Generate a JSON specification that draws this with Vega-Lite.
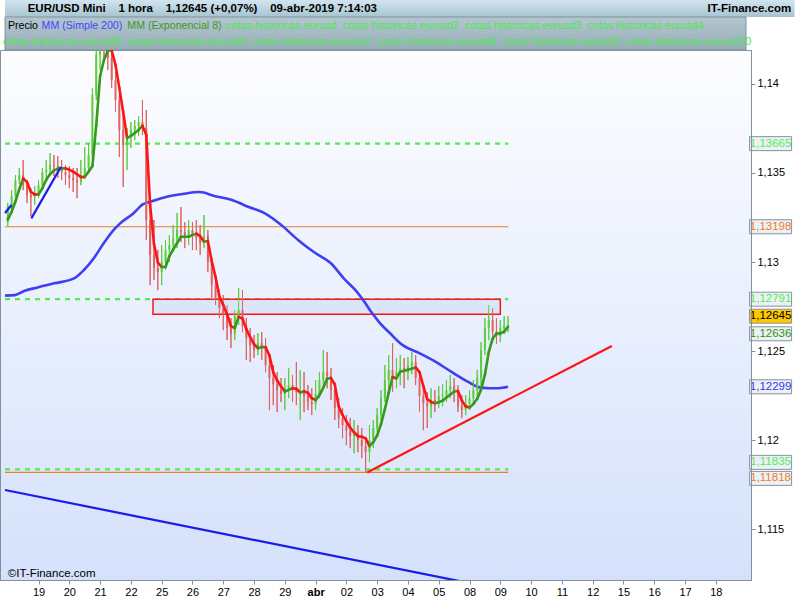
{
  "$schema": "https://vega.github.io/schema/vega-lite/v6.json",
  "width": 751,
  "height": 530,
  "autosize": {"type": "none"},
  "padding": {"left": 0, "top": 50, "right": 49, "bottom": 20},
  "background": "#ffffff",
  "config": {
    "font": "Liberation Sans",
    "axis": {"labelOverlap": false, "labelSeparation": 0},
    "axisX": {"labelOverlap": false, "tickCount": 24},
    "view": {
      "stroke": "#7f929e",
      "strokeWidth": 1,
      "fill": {"gradient": "linear", "x1": 0, "y1": 0, "x2": 0, "y2": 1, "stops": [{"offset": 0, "color": "#fdfdff"}, {"offset": 1, "color": "#d5e1fb"}]}
    }
  },
  "title": {
    "text": "cotas historicas eurusd5\u00a0\u00a0cotas historicas eurusd6\u00a0\u00a0cotas historicas eurusd7\u00a0\u00a0cotas historicas eurusd8\u00a0\u00a0cotas historicas eurusd9\u00a0\u00a0cotas historicas eurusd10",
    "anchor": "start",
    "frame": "group",
    "orient": "top",
    "dx": 3,
    "offset": -47,
    "font": "Liberation Sans",
    "fontSize": 11,
    "fontWeight": "normal",
    "color": "#4ee84e",
    "zindex": 1
  },
  "datasets": {
    "velas": [
      {"t":-1,"o":1.13224,"h":1.13331,"l":1.13202,"c":1.13314,"e":1.13238},
      {"t":-0.875,"o":1.13314,"h":1.13404,"l":1.13292,"c":1.1337,"e":1.13282},
      {"t":-0.75,"o":1.1337,"h":1.13488,"l":1.13348,"c":1.1346,"e":1.1334},
      {"t":-0.625,"o":1.1346,"h":1.13528,"l":1.13438,"c":1.13488,"e":1.1341},
      {"t":-0.5,"o":1.13488,"h":1.13573,"l":1.13404,"c":1.13432,"e":1.1347},
      {"t":-0.375,"o":1.13432,"h":1.1346,"l":1.13331,"c":1.13376,"e":1.13449},
      {"t":-0.25,"o":1.13376,"h":1.13415,"l":1.13258,"c":1.13365,"e":1.13394},
      {"t":-0.125,"o":1.13365,"h":1.13427,"l":1.1332,"c":1.13387,"e":1.1338},
      {"t":0,"o":1.13387,"h":1.1346,"l":1.13359,"c":1.13432,"e":1.13379},
      {"t":0.125,"o":1.13432,"h":1.13528,"l":1.13404,"c":1.13505,"e":1.13415},
      {"t":0.25,"o":1.13505,"h":1.13573,"l":1.13472,"c":1.13517,"e":1.13462},
      {"t":0.375,"o":1.13517,"h":1.13612,"l":1.13488,"c":1.13545,"e":1.13494},
      {"t":0.5,"o":1.13545,"h":1.13601,"l":1.13483,"c":1.13539,"e":1.13515},
      {"t":0.625,"o":1.13539,"h":1.13595,"l":1.13472,"c":1.13528,"e":1.13523},
      {"t":0.75,"o":1.13528,"h":1.13573,"l":1.1346,"c":1.13505,"e":1.13526},
      {"t":0.875,"o":1.13505,"h":1.13545,"l":1.13432,"c":1.13488,"e":1.13526},
      {"t":1,"o":1.13488,"h":1.13539,"l":1.13415,"c":1.13472,"e":1.13518},
      {"t":1.125,"o":1.13472,"h":1.13528,"l":1.13393,"c":1.1346,"e":1.13508},
      {"t":1.25,"o":1.1346,"h":1.13528,"l":1.13359,"c":1.13449,"e":1.13493},
      {"t":1.375,"o":1.13449,"h":1.13573,"l":1.13432,"c":1.13483,"e":1.13478},
      {"t":1.5,"o":1.13483,"h":1.13646,"l":1.13472,"c":1.13528,"e":1.13477},
      {"t":1.625,"o":1.13528,"h":1.13668,"l":1.13517,"c":1.13601,"e":1.13507},
      {"t":1.75,"o":1.13601,"h":1.13977,"l":1.13573,"c":1.13938,"e":1.13539},
      {"t":1.875,"o":1.13938,"h":1.14247,"l":1.1391,"c":1.14163,"e":1.1377},
      {"t":2,"o":1.14163,"h":1.14303,"l":1.14079,"c":1.14219,"e":1.14045},
      {"t":2.125,"o":1.14219,"h":1.14303,"l":1.14124,"c":1.14202,"e":1.14135},
      {"t":2.25,"o":1.14202,"h":1.14275,"l":1.14079,"c":1.14146,"e":1.14188},
      {"t":2.375,"o":1.14146,"h":1.14191,"l":1.13977,"c":1.14022,"e":1.14188},
      {"t":2.5,"o":1.14022,"h":1.14067,"l":1.13843,"c":1.1391,"e":1.14107},
      {"t":2.625,"o":1.1391,"h":1.13938,"l":1.1359,"c":1.13741,"e":1.13977},
      {"t":2.75,"o":1.13741,"h":1.13826,"l":1.13421,"c":1.13657,"e":1.13843},
      {"t":2.875,"o":1.13657,"h":1.13753,"l":1.13517,"c":1.13719,"e":1.13696},
      {"t":3,"o":1.13719,"h":1.13786,"l":1.1364,"c":1.13741,"e":1.13708},
      {"t":3.125,"o":1.13741,"h":1.13798,"l":1.13685,"c":1.13764,"e":1.13725},
      {"t":3.25,"o":1.13764,"h":1.1382,"l":1.13708,"c":1.13786,"e":1.13742},
      {"t":3.375,"o":1.13786,"h":1.1391,"l":1.13713,"c":1.13753,"e":1.13766},
      {"t":3.5,"o":1.13753,"h":1.13854,"l":1.13123,"c":1.13236,"e":1.13713},
      {"t":3.625,"o":1.13236,"h":1.13348,"l":1.1287,"c":1.13039,"e":1.1332},
      {"t":3.75,"o":1.13039,"h":1.13236,"l":1.12898,"c":1.12966,"e":1.13101},
      {"t":3.875,"o":1.12966,"h":1.13067,"l":1.12842,"c":1.12943,"e":1.12997},
      {"t":4,"o":1.12943,"h":1.13095,"l":1.1287,"c":1.13,"e":1.12972},
      {"t":4.125,"o":1.13,"h":1.13123,"l":1.12955,"c":1.13067,"e":1.12972},
      {"t":4.25,"o":1.13067,"h":1.13151,"l":1.13,"c":1.13095,"e":1.13033},
      {"t":4.375,"o":1.13095,"h":1.13208,"l":1.13056,"c":1.13134,"e":1.13071},
      {"t":4.5,"o":1.13134,"h":1.13275,"l":1.13078,"c":1.13179,"e":1.13106},
      {"t":4.625,"o":1.13179,"h":1.13309,"l":1.13112,"c":1.13168,"e":1.13142},
      {"t":4.75,"o":1.13168,"h":1.13224,"l":1.13078,"c":1.13151,"e":1.13142},
      {"t":4.875,"o":1.13151,"h":1.13236,"l":1.13095,"c":1.13179,"e":1.13142},
      {"t":5,"o":1.13179,"h":1.13224,"l":1.13067,"c":1.13146,"e":1.13151},
      {"t":5.125,"o":1.13146,"h":1.13236,"l":1.13067,"c":1.13134,"e":1.13159},
      {"t":5.25,"o":1.13134,"h":1.13208,"l":1.13039,"c":1.13106,"e":1.13145},
      {"t":5.375,"o":1.13106,"h":1.13264,"l":1.13078,"c":1.13146,"e":1.13114},
      {"t":5.5,"o":1.13146,"h":1.13179,"l":1.12943,"c":1.13,"e":1.13118},
      {"t":5.625,"o":1.13,"h":1.13022,"l":1.12797,"c":1.1287,"e":1.13005},
      {"t":5.75,"o":1.1287,"h":1.12927,"l":1.12758,"c":1.12786,"e":1.12915},
      {"t":5.875,"o":1.12786,"h":1.12842,"l":1.12685,"c":1.12741,"e":1.12806},
      {"t":6,"o":1.12741,"h":1.12814,"l":1.12617,"c":1.12707,"e":1.12758},
      {"t":6.125,"o":1.12707,"h":1.12758,"l":1.12561,"c":1.12629,"e":1.12707},
      {"t":6.25,"o":1.12629,"h":1.12685,"l":1.12516,"c":1.12595,"e":1.1264},
      {"t":6.375,"o":1.12595,"h":1.1273,"l":1.12561,"c":1.12696,"e":1.12629},
      {"t":6.5,"o":1.12696,"h":1.12853,"l":1.12646,"c":1.1273,"e":1.12692},
      {"t":6.625,"o":1.1273,"h":1.12842,"l":1.12606,"c":1.1264,"e":1.12682},
      {"t":6.75,"o":1.1264,"h":1.12685,"l":1.12449,"c":1.12572,"e":1.12623},
      {"t":6.875,"o":1.12572,"h":1.12629,"l":1.12438,"c":1.12533,"e":1.12578},
      {"t":7,"o":1.12533,"h":1.12589,"l":1.1246,"c":1.12505,"e":1.12539},
      {"t":7.125,"o":1.12505,"h":1.12601,"l":1.12477,"c":1.12544,"e":1.12516},
      {"t":7.25,"o":1.12544,"h":1.12606,"l":1.12449,"c":1.12528,"e":1.12522},
      {"t":7.375,"o":1.12528,"h":1.12572,"l":1.12381,"c":1.12421,"e":1.12522},
      {"t":7.5,"o":1.12421,"h":1.12477,"l":1.12168,"c":1.12348,"e":1.12474},
      {"t":7.625,"o":1.12348,"h":1.12421,"l":1.12196,"c":1.12314,"e":1.1238},
      {"t":7.75,"o":1.12314,"h":1.12381,"l":1.12157,"c":1.1228,"e":1.12334},
      {"t":7.875,"o":1.1228,"h":1.12348,"l":1.12213,"c":1.12258,"e":1.12302},
      {"t":8,"o":1.12258,"h":1.12348,"l":1.12168,"c":1.12291,"e":1.12272},
      {"t":8.125,"o":1.12291,"h":1.12404,"l":1.12235,"c":1.12308,"e":1.12282},
      {"t":8.25,"o":1.12308,"h":1.12365,"l":1.12213,"c":1.1228,"e":1.1229},
      {"t":8.375,"o":1.1228,"h":1.12438,"l":1.12196,"c":1.12269,"e":1.12288},
      {"t":8.5,"o":1.12269,"h":1.12393,"l":1.12112,"c":1.1228,"e":1.12266},
      {"t":8.625,"o":1.1228,"h":1.12381,"l":1.12157,"c":1.12247,"e":1.12274},
      {"t":8.75,"o":1.12247,"h":1.12308,"l":1.12168,"c":1.12213,"e":1.12265},
      {"t":8.875,"o":1.12213,"h":1.12291,"l":1.1214,"c":1.12202,"e":1.12235},
      {"t":9,"o":1.12202,"h":1.12336,"l":1.12168,"c":1.12258,"e":1.12224},
      {"t":9.125,"o":1.12258,"h":1.12381,"l":1.12235,"c":1.12336,"e":1.12252},
      {"t":9.25,"o":1.12336,"h":1.12505,"l":1.12291,"c":1.12381,"e":1.12294},
      {"t":9.375,"o":1.12381,"h":1.12494,"l":1.12291,"c":1.12359,"e":1.12345},
      {"t":9.5,"o":1.12359,"h":1.12404,"l":1.12224,"c":1.1228,"e":1.12348},
      {"t":9.625,"o":1.1228,"h":1.12325,"l":1.12112,"c":1.12179,"e":1.12311},
      {"t":9.75,"o":1.12179,"h":1.12235,"l":1.12067,"c":1.12123,"e":1.12189},
      {"t":9.875,"o":1.12123,"h":1.12179,"l":1.1201,"c":1.12083,"e":1.12141},
      {"t":10,"o":1.12083,"h":1.1214,"l":1.11971,"c":1.12055,"e":1.12105},
      {"t":10.125,"o":1.12055,"h":1.12123,"l":1.11954,"c":1.12022,"e":1.12069},
      {"t":10.25,"o":1.12022,"h":1.12112,"l":1.11926,"c":1.12044,"e":1.12043},
      {"t":10.375,"o":1.12044,"h":1.12083,"l":1.11932,"c":1.12,"e":1.12021},
      {"t":10.5,"o":1.12,"h":1.12067,"l":1.11898,"c":1.11966,"e":1.12018},
      {"t":10.625,"o":1.11966,"h":1.12016,"l":1.11818,"c":1.11932,"e":1.12009},
      {"t":10.75,"o":1.11932,"h":1.12083,"l":1.11876,"c":1.12,"e":1.11966},
      {"t":10.875,"o":1.12,"h":1.12112,"l":1.11954,"c":1.12067,"e":1.11988},
      {"t":11,"o":1.12067,"h":1.12179,"l":1.12044,"c":1.1214,"e":1.12026},
      {"t":11.125,"o":1.1214,"h":1.1228,"l":1.12112,"c":1.12235,"e":1.12089},
      {"t":11.25,"o":1.12235,"h":1.12421,"l":1.12213,"c":1.12336,"e":1.12173},
      {"t":11.375,"o":1.12336,"h":1.12477,"l":1.1228,"c":1.12393,"e":1.12266},
      {"t":11.5,"o":1.12393,"h":1.12544,"l":1.12269,"c":1.12348,"e":1.12354},
      {"t":11.625,"o":1.12348,"h":1.1246,"l":1.12291,"c":1.12381,"e":1.12346},
      {"t":11.75,"o":1.12381,"h":1.12477,"l":1.12308,"c":1.12404,"e":1.12384},
      {"t":11.875,"o":1.12404,"h":1.1246,"l":1.12291,"c":1.12381,"e":1.12389},
      {"t":12,"o":1.12381,"h":1.12466,"l":1.12336,"c":1.12415,"e":1.12395},
      {"t":12.125,"o":1.12415,"h":1.12494,"l":1.1237,"c":1.12438,"e":1.124},
      {"t":12.25,"o":1.12438,"h":1.12477,"l":1.12308,"c":1.12348,"e":1.12408},
      {"t":12.375,"o":1.12348,"h":1.12393,"l":1.12157,"c":1.12247,"e":1.12381},
      {"t":12.5,"o":1.12247,"h":1.12308,"l":1.12055,"c":1.12207,"e":1.12303},
      {"t":12.625,"o":1.12207,"h":1.12269,"l":1.12067,"c":1.1219,"e":1.1223},
      {"t":12.75,"o":1.1219,"h":1.12291,"l":1.12123,"c":1.12224,"e":1.12214},
      {"t":12.875,"o":1.12224,"h":1.1228,"l":1.12157,"c":1.12213,"e":1.12206},
      {"t":13,"o":1.12213,"h":1.12303,"l":1.12179,"c":1.12247,"e":1.12212},
      {"t":13.125,"o":1.12247,"h":1.12314,"l":1.1219,"c":1.12252,"e":1.12221},
      {"t":13.25,"o":1.12252,"h":1.12336,"l":1.12213,"c":1.1228,"e":1.12239},
      {"t":13.375,"o":1.1228,"h":1.12365,"l":1.12235,"c":1.12302,"e":1.12256},
      {"t":13.5,"o":1.12302,"h":1.12348,"l":1.12213,"c":1.12269,"e":1.12272},
      {"t":13.625,"o":1.12269,"h":1.12308,"l":1.12157,"c":1.1219,"e":1.12275},
      {"t":13.75,"o":1.1219,"h":1.12252,"l":1.12123,"c":1.12168,"e":1.12222},
      {"t":13.875,"o":1.12168,"h":1.12252,"l":1.1214,"c":1.12202,"e":1.12189},
      {"t":14,"o":1.12202,"h":1.1228,"l":1.12168,"c":1.12235,"e":1.12182},
      {"t":14.125,"o":1.12235,"h":1.12336,"l":1.12213,"c":1.1228,"e":1.12203},
      {"t":14.25,"o":1.1228,"h":1.12393,"l":1.12247,"c":1.12348,"e":1.12232},
      {"t":14.375,"o":1.12348,"h":1.1255,"l":1.12308,"c":1.12505,"e":1.12283},
      {"t":14.5,"o":1.12505,"h":1.12685,"l":1.12477,"c":1.12629,"e":1.12367},
      {"t":14.625,"o":1.12629,"h":1.12758,"l":1.12561,"c":1.12674,"e":1.12494},
      {"t":14.75,"o":1.12674,"h":1.12741,"l":1.1255,"c":1.12606,"e":1.12569},
      {"t":14.875,"o":1.12606,"h":1.12685,"l":1.12539,"c":1.12584,"e":1.12598},
      {"t":15,"o":1.12584,"h":1.12674,"l":1.1255,"c":1.12629,"e":1.12599},
      {"t":15.125,"o":1.12629,"h":1.12696,"l":1.12595,"c":1.1264,"e":1.12609},
      {"t":15.25,"o":1.1264,"h":1.12696,"l":1.12606,"c":1.12645,"e":1.12636}
    ],
    "mm200": [
      {"t":-1.0897,"v":1.12811},{"t":-0.769,"v":1.12814},{"t":-0.449,"v":1.12838},{"t":-0.032,"v":1.12857},
      {"t":0.513,"v":1.1288},{"t":1.154,"v":1.12908},{"t":1.474,"v":1.12955},{"t":1.795,"v":1.13021},
      {"t":2.115,"v":1.13105},{"t":2.436,"v":1.13179},{"t":2.651,"v":1.13217},{"t":3.077,"v":1.13273},
      {"t":3.397,"v":1.13325},{"t":3.622,"v":1.13338},{"t":4.135,"v":1.13365},{"t":4.679,"v":1.13382},
      {"t":5.224,"v":1.13393},{"t":5.737,"v":1.1337},{"t":6.282,"v":1.13348},{"t":6.827,"v":1.13309},
      {"t":7.34,"v":1.13275},{"t":7.885,"v":1.13208},{"t":8.429,"v":1.13124},{"t":8.942,"v":1.13056},
      {"t":9.487,"v":1.12994},{"t":9.968,"v":1.12898},{"t":10.288,"v":1.12843},{"t":10.545,"v":1.12786},
      {"t":10.833,"v":1.12713},{"t":11.09,"v":1.12657},{"t":11.41,"v":1.12601},{"t":11.827,"v":1.12533},
      {"t":12.372,"v":1.12488},{"t":12.917,"v":1.12438},{"t":13.429,"v":1.12381},{"t":13.974,"v":1.12325},
      {"t":14.295,"v":1.12297},{"t":14.615,"v":1.12291},{"t":14.936,"v":1.12291},{"t":15.25,"v":1.12299}
    ],
    "niveles": [
      {"v":1.13665,"tipo":"nivel","t0":-1.0897,"t1":15.26},
      {"v":1.12791,"tipo":"nivel","t0":-1.0897,"t1":15.26},
      {"v":1.11835,"tipo":"nivel","t0":-1.0897,"t1":15.26},
      {"v":1.13198,"tipo":"linea","t0":-1.0897,"t1":15.26},
      {"v":1.11818,"tipo":"linea","t0":-1.0897,"t1":15.26}
    ],
    "zona": [
      {"t0":3.718,"t1":15.0,"v0":1.12707,"v1":1.12791}
    ],
    "lineas": [
      {"id":"r1","tipo":"soporte","t":10.673,"v":1.11818},
      {"id":"r1","tipo":"soporte","t":18.622,"v":1.12528},
      {"id":"b1","tipo":"canal","t":-1.0897,"v":1.11719},
      {"id":"b1","tipo":"canal","t":13.974,"v":1.11197},
      {"id":"b2","tipo":"canal","t":-0.234,"v":1.13245},
      {"id":"b2","tipo":"canal","t":0.728,"v":1.13535},
      {"id":"b3","tipo":"canal","t":-1.0897,"v":1.13275},
      {"id":"b3","tipo":"canal","t":-0.875,"v":1.1332}
    ],
    "etiquetas": [
      {"v":1.13665,"texto":"1,13665","tipo":"nivel"},
      {"v":1.13198,"texto":"1,13198","tipo":"linea"},
      {"v":1.12791,"texto":"1,12791","tipo":"nivel"},
      {"v":1.12645,"texto":"1,12645","tipo":"precio"},
      {"v":1.12636,"texto":"1,12636","tipo":"mm8"},
      {"v":1.12299,"texto":"1,12299","tipo":"mm200"},
      {"v":1.11835,"texto":"1,11835","tipo":"nivel"},
      {"v":1.11818,"texto":"1,11818","tipo":"linea"}
    ]
  },
  "layer": [
    {
      "data": {"name": "velas"},
      "mark": {"type": "rule", "strokeWidth": 1, "clip": true},
      "encoding": {
        "x": {"field": "t", "type": "quantitative",
          "scale": {"domain": [-1.0897, 22.981], "nice": false, "zero": false},
          "axis": {"values": [0,1,2,3,4,5,6,7,8,9,10,11,12,13,14,15,16,17,18,19,20,21,22],
            "tickCount": 24,
            "labelExpr": "datum.value >= 0 && datum.value <= 22 ? ['19','20','21','22','25','26','27','28','29','abr','02','03','04','05','08','09','10','11','12','15','16','17','18'][datum.value] : ''",
            "labelFontWeight": {"condition": {"test": "datum.value == 9", "value": "bold"}, "value": "normal"},
            "title": null, "grid": false, "labelFont": "Liberation Sans", "labelFontSize": 11, "labelColor": "#000000",
            "tickColor": "#7f929e", "tickSize": 4, "domainColor": "#7f929e", "labelPadding": 2, "labelFlush": false, "labelOverlap": false, "labelSeparation": 0, "zindex": 1}},
        "y": {"field": "l", "type": "quantitative",
          "scale": {"domain": [1.112135, 1.14191], "nice": false, "zero": false},
          "axis": {"orient": "right", "values": [1.115, 1.12, 1.125, 1.13, 1.135, 1.14],
            "labelExpr": "replace(format(datum.value, '.3~f'), '.', ',')",
            "title": null, "grid": false, "labelFont": "Liberation Sans", "labelFontSize": 11, "labelColor": "#000000",
            "tickColor": "#7f929e", "tickSize": 4, "domainColor": "#7f929e", "labelPadding": 2, "labelFlush": false, "labelOverlap": false, "zindex": 1}},
        "y2": {"field": "h"},
        "color": {"condition": {"test": "datum.c >= datum.o", "value": "#5dcc3d"}, "value": "#dc6464"}
      }
    },
    {
      "data": {"values": [{}]},
      "mark": {"type": "rect", "color": {"gradient": "linear", "x1": 0, "y1": 0, "x2": 0, "y2": 1, "stops": [{"offset": 0, "color": "#d2e5ee"}, {"offset": 1, "color": "#a7c3d1"}]}},
      "encoding": {
        "x": {"datum": -1.0897, "type": "quantitative"},
        "x2": {"datum": 24.56},
        "y": {"datum": 1.143764, "type": "quantitative"},
        "y2": {"datum": 1.14472}
      }
    },
    {
      "data": {"values": [{}]},
      "mark": {"type": "rect", "color": {"gradient": "linear", "x1": 0, "y1": 0, "x2": 0, "y2": 1, "stops": [{"offset": 0, "color": "#b3c6d0"}, {"offset": 1, "color": "#98adb9"}]}, "stroke": "#7f929e", "strokeWidth": 1},
      "encoding": {
        "x": {"datum": -1.0897, "type": "quantitative"},
        "x2": {"datum": 22.981},
        "y": {"datum": 1.14191, "type": "quantitative"},
        "y2": {"datum": 1.143764}
      }
    },
    {
      "data": {"values": [{"texto": "IT-Finance.com"}]},
      "mark": {"type": "text", "align": "right", "baseline": "middle", "fontSize": 11.5, "fontWeight": "bold", "color": "#000000", "font": "Liberation Sans"},
      "encoding": {
        "x": {"datum": 24.45, "type": "quantitative"},
        "y": {"datum": 1.144213, "type": "quantitative"},
        "text": {"field": "texto"}
      }
    },
    {
      "data": {"values": [{"texto": "EUR/USD Mini\u00a0\u00a0\u00a0\u00a01 hora\u00a0\u00a0\u00a0\u00a01,12645 (+0,07%)\u00a0\u00a0\u00a0\u00a009-abr-2019 7:14:03"}]},
      "mark": {"type": "text", "align": "left", "baseline": "middle", "fontSize": 11.5, "fontWeight": "bold", "color": "#000000", "font": "Liberation Sans"},
      "encoding": {
        "x": {"datum": -0.353, "type": "quantitative"},
        "y": {"datum": 1.144213, "type": "quantitative"},
        "text": {"field": "texto"}
      }
    },
    {
      "data": {"values": [{"texto": "Precio"}]},
      "mark": {"type": "text", "align": "left", "baseline": "middle", "fontSize": 10.6, "color": "#000000", "font": "Liberation Sans"},
      "encoding": {
        "x": {"datum": -0.994, "type": "quantitative"},
        "y": {"datum": 1.143258, "type": "quantitative"},
        "text": {"field": "texto"}
      }
    },
    {
      "data": {"values": [{"texto": "MM (Simple 200)"}]},
      "mark": {"type": "text", "align": "left", "baseline": "middle", "fontSize": 10.6, "color": "#4545ff", "font": "Liberation Sans"},
      "encoding": {
        "x": {"datum": 0.1, "type": "quantitative"},
        "y": {"datum": 1.143258, "type": "quantitative"},
        "text": {"field": "texto"}
      }
    },
    {
      "data": {"values": [{"texto": "MM (Exponencial 8)"}]},
      "mark": {"type": "text", "align": "left", "baseline": "middle", "fontSize": 10.6, "color": "#3c9a1c", "font": "Liberation Sans"},
      "encoding": {
        "x": {"datum": 2.885, "type": "quantitative"},
        "y": {"datum": 1.143258, "type": "quantitative"},
        "text": {"field": "texto"}
      }
    },
    {
      "data": {"values": [{"texto": "cotas historicas eurusd\u00a0\u00a0cotas historicas eurusd2\u00a0\u00a0cotas historicas eurusd3\u00a0\u00a0cotas historicas eurusd4"}]},
      "mark": {"type": "text", "align": "left", "baseline": "middle", "fontSize": 10.8, "color": "#4ee84e", "font": "Liberation Sans"},
      "encoding": {
        "x": {"datum": 6.09, "type": "quantitative"},
        "y": {"datum": 1.143258, "type": "quantitative"},
        "text": {"field": "texto"}
      }
    },
    {
      "data": {"name": "niveles"},
      "mark": {"type": "rule"},
      "encoding": {
        "x": {"field": "t0", "type": "quantitative"},
        "x2": {"field": "t1"},
        "y": {"field": "v", "type": "quantitative"},
        "color": {"field": "tipo", "type": "nominal", "legend": null,
          "scale": {"domain": ["nivel", "linea", "precio", "mm8", "mm200", "soporte", "canal"], "range": ["#52ec52", "#ee7d2c", "#000000", "#2f8f10", "#3535ee", "#ff1414", "#1a1aee"]}},
        "strokeDash": {"condition": {"test": "datum.tipo == 'nivel'", "value": [5, 5]}, "value": [1, 0]},
        "strokeWidth": {"condition": {"test": "datum.tipo == 'nivel'", "value": 2.2}, "value": 1.2}
      }
    },
    {
      "data": {"name": "zona"},
      "mark": {"type": "rect", "fill": "#dae5fa", "stroke": "#ff1414", "strokeWidth": 1.5},
      "encoding": {
        "x": {"field": "t0", "type": "quantitative"},
        "x2": {"field": "t1"},
        "y": {"field": "v0", "type": "quantitative"},
        "y2": {"field": "v1"}
      }
    },
    {
      "data": {"name": "mm200"},
      "mark": {"type": "line", "color": "#3f3ff2", "strokeWidth": 2.6, "interpolate": "monotone", "clip": true},
      "encoding": {
        "x": {"field": "t", "type": "quantitative"},
        "y": {"field": "v", "type": "quantitative"}
      }
    },
    {
      "data": {"name": "velas"},
      "mark": {"type": "rule", "strokeWidth": 1, "clip": true},
      "encoding": {
        "x": {"field": "t", "type": "quantitative"},
        "y": {"field": "l", "type": "quantitative"},
        "y2": {"field": "h"},
        "color": {"condition": {"test": "datum.c >= datum.o", "value": "#5dcc3d"}, "value": "#dc6464"}
      }
    },
    {
      "data": {"name": "velas"},
      "mark": {"type": "bar", "width": 2, "clip": true},
      "encoding": {
        "x": {"field": "t", "type": "quantitative"},
        "y": {"field": "o", "type": "quantitative"},
        "y2": {"field": "c"},
        "color": {"condition": {"test": "datum.c >= datum.o", "value": "#5dcc3d"}, "value": "#dc6464"}
      }
    },
    {
      "data": {"name": "velas"},
      "transform": [
        {"window": [{"op": "lead", "field": "t", "as": "t2"}, {"op": "lead", "field": "e", "as": "e2"}], "sort": [{"field": "t", "order": "ascending"}]},
        {"filter": "datum.t2 != null"}
      ],
      "mark": {"type": "rule", "strokeWidth": 2.6, "strokeCap": "round", "clip": true},
      "encoding": {
        "x": {"field": "t", "type": "quantitative"},
        "x2": {"field": "t2"},
        "y": {"field": "e", "type": "quantitative"},
        "y2": {"field": "e2"},
        "color": {"condition": {"test": "datum.e2 >= datum.e", "value": "#349a1c"}, "value": "#ff1414"}
      }
    },
    {
      "data": {"name": "lineas"},
      "mark": {"type": "line", "strokeWidth": 2.2, "clip": true},
      "encoding": {
        "x": {"field": "t", "type": "quantitative"},
        "y": {"field": "v", "type": "quantitative"},
        "detail": {"field": "id"},
        "color": {"field": "tipo", "type": "nominal", "legend": null}
      }
    },
    {
      "data": {"name": "etiquetas"},
      "mark": {"type": "tick", "orient": "horizontal", "size": 42, "thickness": 14, "stroke": "#8394a0", "strokeWidth": 1, "opacity": 1,
        "yOffset": {"expr": "datum.texto == '1,12645' ? -9 : datum.texto == '1,12636' ? 7 : datum.texto == '1,11835' ? -7 : datum.texto == '1,11818' ? 6 : 0"}},
      "encoding": {
        "x": {"datum": 23.78, "type": "quantitative"},
        "y": {"field": "v", "type": "quantitative"},
        "fill": {"condition": {"test": "datum.tipo == 'precio'", "value": "#ffc800"}, "value": "#edf1f5"}
      }
    },
    {
      "data": {"name": "etiquetas"},
      "mark": {"type": "text", "align": "center", "baseline": "middle", "fontSize": 11.5, "font": "Liberation Sans",
        "yOffset": {"expr": "datum.texto == '1,12645' ? -9 : datum.texto == '1,12636' ? 7 : datum.texto == '1,11835' ? -7 : datum.texto == '1,11818' ? 6 : 0"}},
      "encoding": {
        "x": {"datum": 23.78, "type": "quantitative"},
        "y": {"field": "v", "type": "quantitative"},
        "text": {"field": "texto"},
        "color": {"field": "tipo", "type": "nominal", "legend": null}
      }
    },
    {
      "data": {"values": [{"texto": "\u00a9IT-Finance.com"}]},
      "mark": {"type": "text", "align": "left", "baseline": "middle", "fontSize": 11.5, "color": "#000000", "font": "Liberation Sans"},
      "encoding": {
        "x": {"datum": -1.0, "type": "quantitative"},
        "y": {"datum": 1.112455, "type": "quantitative"},
        "text": {"field": "texto"}
      }
    }
  ]
}
